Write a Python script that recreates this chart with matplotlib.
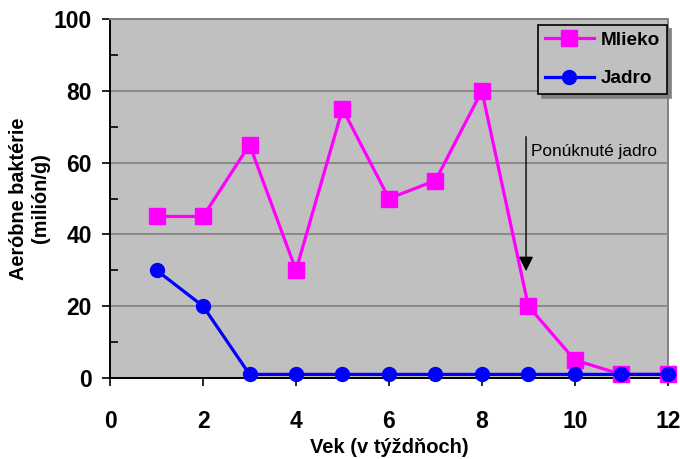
import matplotlib.pyplot as plt
from matplotlib.ticker import MultipleLocator

# data
weeks = [1, 2, 3, 4, 5, 6, 7, 8, 9, 10, 11, 12]
mlieko = [45, 45, 65, 30, 75, 50, 55, 80, 20, 5, 1, 1]
jadro = [30, 20, 1, 1, 1, 1, 1, 1, 1, 1, 1, 1]

plt.rcParams['font.family'] = ['Liberation Sans', 'DejaVu Sans']

fig = plt.figure(figsize=(6.8, 4.59), dpi=100)
ax = fig.add_axes([0.162, 0.1765, 0.82, 0.782])
ax.set_facecolor('#c0c0c0')

ax.plot(weeks, mlieko, color='#ff00ff', lw=2.3, marker='s', ms=11.5,
        label='Mlieko', clip_on=False, zorder=3)
ax.plot(weeks, jadro, color='#0000ff', lw=2.3, marker='o', ms=10,
        label='Jadro', clip_on=False, zorder=4)

ax.set_xlim(0, 12)
ax.set_ylim(0, 100)
ax.xaxis.set_major_locator(MultipleLocator(2))
ax.yaxis.set_major_locator(MultipleLocator(20))
ax.yaxis.set_minor_locator(MultipleLocator(10))
ax.grid(axis='y', which='major', color='#808080', lw=1.2, zorder=0)
ax.set_axisbelow(True)

ax.tick_params(axis='x', direction='out', length=6, width=1.2, pad=17,
               labelsize=16.5)
ax.tick_params(axis='y', which='major', direction='out', length=6, width=1.2,
               pad=7, labelsize=16.5)
ax.tick_params(axis='y', which='minor', direction='in', length=6, width=1.2)
for lab in ax.get_xticklabels() + ax.get_yticklabels():
    lab.set_fontweight('bold')

for s in ['left', 'bottom']:
    ax.spines[s].set_color('black')
    ax.spines[s].set_linewidth(1.4)
for s in ['top', 'right']:
    ax.spines[s].set_color('#808080')
    ax.spines[s].set_linewidth(1.4)

ax.set_xlabel('Vek (v týždňoch)', fontsize=14.5, fontweight='bold', labelpad=4)
ax.set_ylabel('Aeróbne baktérie\n(milión/g)', fontsize=14.3, fontweight='bold',
              labelpad=3)

ax.annotate('', xy=(8.95, 29), xytext=(8.95, 68),
            arrowprops=dict(arrowstyle='-|>', color='black', lw=1,
                            mutation_scale=22))
ax.text(9.05, 63, 'Ponúknuté jadro', fontsize=12.4, ha='left', va='center')

leg = ax.legend(loc='upper right', bbox_to_anchor=(0.998, 0.983),
                borderaxespad=0,
                prop={'weight': 'bold', 'size': 13.7}, frameon=True,
                fancybox=False, edgecolor='black', facecolor='#c0c0c0',
                framealpha=1, handlelength=2.6, borderpad=0.35,
                labelspacing=1.1, handletextpad=0.35,
                shadow={'color': '#808080', 'alpha': 1, 'ox': 3, 'oy': -3})
leg.get_frame().set_linewidth(1.2)

plt.savefig('out.png', dpi=100)
